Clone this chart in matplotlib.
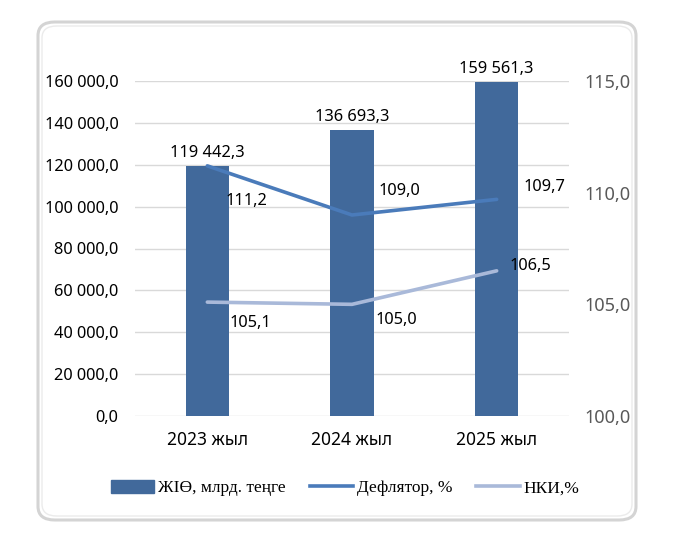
import numpy as np
from matplotlib import pyplot as plt
from matplotlib.patches import FancyBboxPatch
from matplotlib.lines import Line2D
from matplotlib.patches import Patch

years = ['2023 жыл', '2024 жыл', '2025 жыл']
gdp = [119442.3, 136693.3, 159561.3]
deflator = [111.2, 109.0, 109.7]
cpi = [105.1, 105.0, 106.5]
left_ticks = np.arange(0, 160001, 20000)
right_ticks = [100, 105, 110, 115]

BAR_C = '#41699B'
DEF_C = '#4A7BBA'
CPI_C = '#A9B9D9'
SANS = 'Noto Sans'
SERIF = 'Liberation Serif'


def fmt(v, dec=1):
    s = f'{v:,.{dec}f}'
    return s.replace(',', ' ').replace('.', ',')


fig = plt.figure(figsize=(6.75, 5.44), dpi=100)

# chart frame
frame = FancyBboxPatch((38 / 675, 1 - 520 / 544), (636 - 38) / 675, (520 - 22) / 544,
                       boxstyle='round,pad=0,rounding_size=0.025', transform=fig.transFigure,
                       fc='white', ec='#D4D4D4', lw=2.2, zorder=-10)
fig.patches.append(frame)
inner = FancyBboxPatch((42 / 675, 1 - 516 / 544), (632 - 42) / 675, (516 - 26) / 544,
                       boxstyle='round,pad=0,rounding_size=0.022', transform=fig.transFigure,
                       fc='none', ec='#EBEBEB', lw=1.0, zorder=-9)
fig.patches.append(inner)

ax = fig.add_axes([135 / 675, 1 - 416 / 544, (569 - 135) / 675, (416 - 81) / 544])
ax.patch.set_visible(False)
ax2 = ax.twinx()
x = np.arange(len(years))

ax.bar(x, gdp, width=0.3, color=BAR_C, zorder=2)
ax.set_xlim(-0.5, 2.5)
ax.set_ylim(0, 160000)
ax.set_yticks(left_ticks)
ax.set_yticklabels([fmt(v) for v in left_ticks], fontsize=11.8, family=SANS, color='black')
ax.set_xticks(x)
ax.set_xticklabels(years, fontsize=12.5, family=SANS, color='black')
ax.grid(axis='y', color='#D9D9D9', lw=1, zorder=0)
ax.set_axisbelow(True)
ax.tick_params(length=0, pad=12)
ax.tick_params(axis='x', pad=11)
for s in ax.spines.values():
    s.set_visible(False)

for i, v in enumerate(gdp):
    ax.text(x[i], v + 2500, fmt(v), ha='center', va='bottom', fontsize=11.8, family=SANS)

ax2.plot(x, deflator, color=DEF_C, lw=2.6, solid_capstyle='round', zorder=3)
ax2.plot(x, cpi, color=CPI_C, lw=2.6, solid_capstyle='round', zorder=3)
ax2.set_ylim(100, 115)
ax2.set_yticks(right_ticks)
ax2.set_yticklabels([fmt(v) for v in right_ticks], fontsize=13, family=SANS, color='#595959')
ax2.tick_params(length=0, pad=11)
for s in ax2.spines.values():
    s.set_visible(False)

def_off = [(28, -25), (34, 17), (34.5, 8.6)]
cpi_off = [(31, -15), (32, -11.5), (24.5, 3.6)]
for i in range(3):
    ax2.annotate(fmt(deflator[i]), (x[i], deflator[i]), xytext=def_off[i], textcoords='offset points',
                 ha='center', va='center', fontsize=11.8, family=SANS)
    ax2.annotate(fmt(cpi[i]), (x[i], cpi[i]), xytext=cpi_off[i], textcoords='offset points',
                 ha='center', va='center', fontsize=11.8, family=SANS)

handles = [Patch(color=BAR_C), Line2D([], [], color=DEF_C, lw=2.6), Line2D([], [], color=CPI_C, lw=2.6)]
labels = ['ЖІӨ, млрд. теңге', 'Дефлятор, %', 'НКИ,%']
fig.legend(handles, labels, loc='center', bbox_to_anchor=(345 / 675, 1 - 488 / 544), ncol=3, frameon=False,
           prop={'family': SERIF, 'size': 12.5}, handlelength=2.5, handleheight=0.75,
           columnspacing=1.4, handletextpad=0.2)

fig.savefig('out.png', dpi=100)
